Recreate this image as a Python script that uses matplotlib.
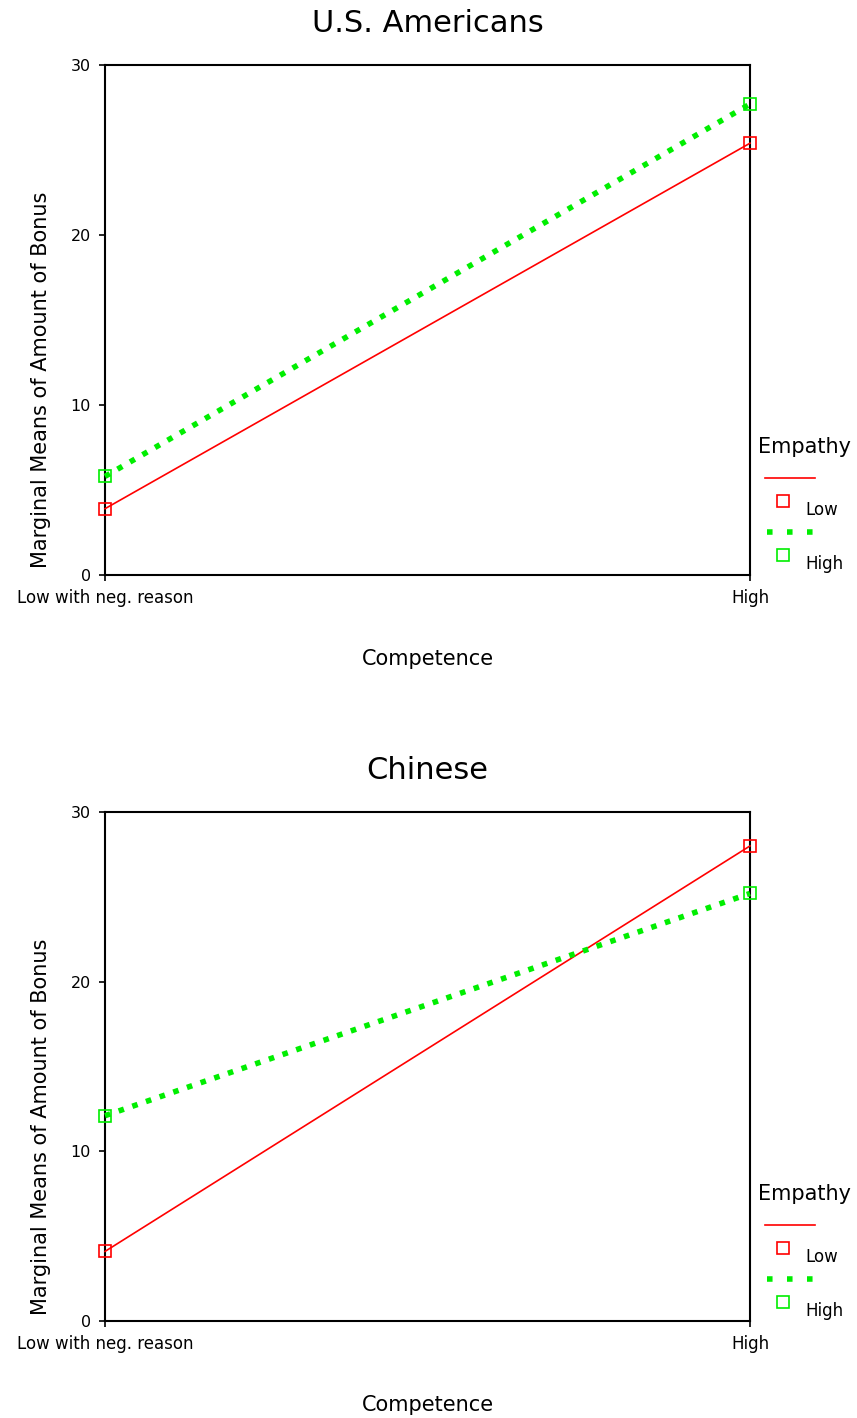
import matplotlib
matplotlib.use("Agg")
import matplotlib.pyplot as plt
from matplotlib.lines import Line2D

plt.rcParams['font.family'] = ['DejaVu Sans']

competence = ["Low with neg. reason", "High"]
groups = ["U.S. Americans", "Chinese"]
us_low = [3.9, 25.4]
us_high = [5.8, 27.7]
cn_low = [4.1, 28.0]
cn_high = [12.1, 25.2]
yticks = [0, 10, 20, 30]

RED = "#ff0000"
GREEN = "#00ee00"

fig = plt.figure(figsize=(8.57, 14.18), dpi=100)
W, H = 857, 1418

def panel(rect, title, low, high, leg_top):
    ax = fig.add_axes(rect)
    x = list(range(len(competence)))
    ax.plot(x, low, color=RED, lw=1.2, marker='s', ms=8, mfc='none', mec=RED, mew=1.2, clip_on=False, zorder=3)
    ax.plot(x, high, color=GREEN, lw=4, ls=(0, (1, 1.6)), marker='s', ms=8, mfc='none', mec=GREEN, mew=1.2, clip_on=False, zorder=3)
    ax.set_xlim(0, 1)
    ax.set_ylim(0, 30)
    ax.set_xticks(x)
    ax.set_xticklabels(competence, fontsize=12)
    ax.set_yticks(yticks)
    ax.set_yticklabels([str(t) for t in yticks], fontsize=11.5)
    ax.tick_params(length=4, width=1.2, pad=6)
    for s in ax.spines.values():
        s.set_linewidth(1.5)
    ax.set_title(title, fontsize=22, pad=24)
    ax.set_xlabel("Competence", fontsize=15, labelpad=30)
    ax.set_ylabel("Marginal Means of Amount of Bonus", fontsize=15)
    ax.yaxis.set_label_coords(-0.083, 0.382)
    # legend
    fig.text(758 / W, 1 - leg_top / H, "Empathy", fontsize=15, va='center', ha='left')
    def fy(py):
        return 1 - py / H
    fig.add_artist(Line2D([765 / W, 815 / W], [fy(leg_top + 31)] * 2, color=RED, lw=1.2))
    fig.add_artist(Line2D([783 / W], [fy(leg_top + 54)], marker='s', ms=8, mfc='none', mec=RED, mew=1.2, ls='none'))
    fig.text(805 / W, fy(leg_top + 63), "Low", fontsize=12, va='center', ha='left')
    fig.add_artist(Line2D([767 / W, 815 / W], [fy(leg_top + 85)] * 2, color=GREEN, lw=4, ls=(0, (1, 2.6))))
    fig.add_artist(Line2D([783 / W], [fy(leg_top + 108)], marker='s', ms=8, mfc='none', mec=GREEN, mew=1.2, ls='none'))
    fig.text(805 / W, fy(leg_top + 117), "High", fontsize=12, va='center', ha='left')
    return ax

panel([105 / W, 1 - 575 / H, 645 / W, 510 / H], groups[0], us_low, us_high, 447)
panel([105 / W, 1 - 1321 / H, 645 / W, 509 / H], groups[1], cn_low, cn_high, 1194)

fig.savefig("out.png", dpi=100)
